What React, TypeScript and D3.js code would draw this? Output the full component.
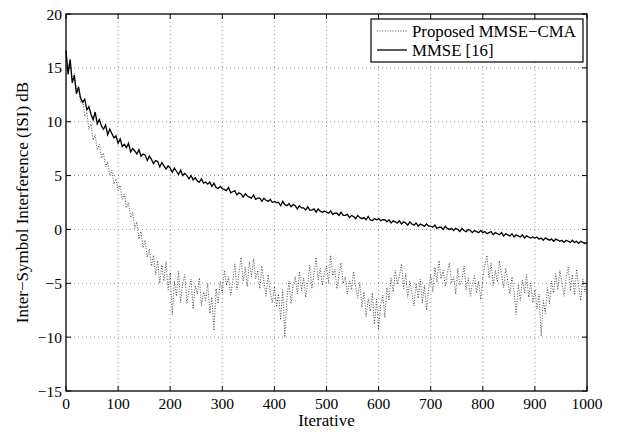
import React from "react";
import * as d3 from "d3";

const STEP = 4;

const proposedValues: number[] = [
  16.4, 15.0, 15.6, 14.0, 14.5, 13.0, 13.3, 11.8, 12.0, 10.5, 10.9, 9.3, 9.8, 8.3, 8.8, 7.4, 7.9, 6.6, 7.1, 5.8, 6.3, 5.0, 5.5, 4.2, 4.7,
  3.6, 4.1, 2.8, 3.3, 2.0, 2.5, 1.1, 1.6, 0.1, 0.7, -0.9, -0.2, -1.7, -1.0, -2.6, -1.8, -3.4, -2.4, -4.2, -2.9, -5.0, -3.3, -4.8, -3.0, -5.6,
  -4.0, -7.9, -4.8, -6.2, -3.9, -6.8, -5.0, -4.2, -6.9, -5.6, -4.6, -7.4, -5.2, -6.0, -4.5, -7.1, -5.8, -6.6, -5.0, -7.8, -6.3, -9.4, -5.5, -6.9, -4.8,
  -5.9, -3.8, -5.2, -4.4, -6.1, -4.9, -3.2, -5.6, -4.1, -2.6, -4.8, -3.5, -5.3, -3.0, -4.4, -2.7, -4.6, -3.8, -5.5, -3.4, -4.9, -6.2, -4.2, -5.8, -6.8,
  -5.3, -7.2, -6.0, -8.4, -5.6, -10.0, -6.4, -4.8, -6.9, -5.2, -4.4, -6.0, -3.9, -5.7, -4.5, -6.3, -5.0, -3.3, -5.5, -4.1, -2.6, -4.7, -3.6, -5.2, -4.0,
  -3.4, -5.0, -2.4, -4.3, -3.7, -5.5, -4.2, -3.1, -5.0, -4.4, -6.0, -4.8, -5.6, -3.9, -5.3, -6.4, -4.9, -7.2, -5.8, -8.1, -6.4, -7.6, -5.9, -8.8, -6.5,
  -9.3, -7.0, -6.1, -8.2, -5.4, -6.6, -4.5, -5.8, -3.8, -5.1, -4.3, -3.2, -5.5, -4.1, -6.3, -4.8, -5.9, -7.1, -5.0, -6.4, -4.6, -6.8, -5.2, -7.5, -5.6,
  -4.2, -5.8, -3.5, -4.9, -2.9, -4.6, -3.8, -5.3, -4.0, -3.1, -5.0, -4.4, -6.0, -3.6, -5.2, -4.7, -3.4, -5.6, -4.5, -6.2, -5.1, -4.3, -5.9, -4.8, -6.5,
  -4.6, -3.3, -2.4, -4.5, -3.1, -5.2, -3.8, -4.9, -2.9, -4.2, -5.4, -3.6, -4.8, -6.0, -4.4, -5.7, -7.9, -5.1, -6.6, -4.7, -5.9, -4.2, -6.3, -5.0, -6.8,
  -5.6, -7.4, -6.0, -9.9, -6.6, -7.8, -5.4, -6.9, -4.8, -5.9, -4.1, -5.6, -3.8, -5.0, -6.2, -4.5, -3.5, -5.7, -4.2, -6.1, -3.7, -5.3, -6.6, -4.6, -5.8,
  -4.9,
];

const mmseValues: number[] = [
  16.6, 14.4, 15.8, 13.6, 14.3, 12.6, 13.2, 12.2, 11.8, 12.1, 11.1, 11.4, 10.7, 10.2, 10.9, 9.8, 10.2, 9.6, 9.3, 9.7, 8.8, 9.3, 8.9, 8.5, 8.7,
  8.0, 8.4, 7.7, 7.9, 7.6, 8.0, 7.2, 7.5, 7.3, 7.0, 7.4, 6.8, 7.0, 6.9, 6.4, 6.8, 6.5, 6.1, 6.4, 6.3, 5.8, 6.2, 5.9, 5.6, 5.9,
  5.7, 5.3, 5.7, 5.4, 5.1, 5.5, 5.0, 5.2, 5.0, 4.7, 5.0, 4.6, 4.8, 4.5, 4.4, 4.7, 4.3, 4.4, 4.2, 4.4, 4.0, 4.3, 3.9, 3.8, 4.0,
  3.8, 3.7, 3.6, 3.9, 3.4, 3.5, 3.6, 3.2, 3.4, 3.3, 3.0, 3.3, 3.1, 3.0, 2.9, 3.2, 2.8, 2.9, 2.9, 2.6, 2.9, 2.7, 2.6, 2.8, 2.5,
  2.6, 2.5, 2.5, 2.2, 2.6, 2.3, 2.2, 2.4, 2.1, 2.3, 2.2, 1.9, 2.2, 2.0, 2.0, 1.8, 2.1, 1.8, 1.8, 1.9, 1.6, 1.9, 1.7, 1.6, 1.7,
  1.6, 1.5, 1.7, 1.4, 1.5, 1.5, 1.3, 1.6, 1.3, 1.3, 1.4, 1.1, 1.3, 1.2, 1.0, 1.3, 1.1, 1.0, 1.1, 0.9, 1.2, 0.9, 0.8, 1.0, 0.9,
  1.0, 0.8, 0.9, 0.9, 0.7, 0.9, 0.6, 0.8, 0.7, 0.6, 0.8, 0.5, 0.7, 0.6, 0.4, 0.7, 0.5, 0.4, 0.6, 0.3, 0.5, 0.4, 0.3, 0.5, 0.3,
  0.3, 0.2, 0.4, 0.1, 0.2, 0.2, 0.0, 0.3, 0.1, 0.0, 0.1, -0.1, 0.1, 0.0, -0.2, 0.1, -0.1, -0.2, 0.0, -0.1, -0.3, -0.1, -0.2, -0.3, -0.1,
  -0.3, -0.2, -0.4, -0.3, -0.2, -0.5, -0.3, -0.4, -0.5, -0.3, -0.6, -0.4, -0.5, -0.6, -0.4, -0.7, -0.5, -0.6, -0.7, -0.5, -0.8, -0.6, -0.7, -0.8, -0.7,
  -0.8, -0.7, -0.9, -0.8, -1.0, -0.8, -0.9, -1.0, -0.9, -1.1, -0.9, -1.0, -1.1, -1.0, -1.2, -1.0, -1.1, -1.2, -1.0, -1.2, -1.1, -1.3, -1.1, -1.2, -1.3,
  -1.2,
];

const xTicks = [0, 100, 200, 300, 400, 500, 600, 700, 800, 900, 1000];
const yTicks = [-15, -10, -5, 0, 5, 10, 15, 20];
const legendLabels = ["Proposed MMSE\u2212CMA", "MMSE [16]"];

const W = 620;
const H = 436;
const M = { left: 66, right: 587, top: 14, bottom: 391 };
const FONT = "'Liberation Serif', 'Times New Roman', serif";

function fmt(v: number) {
  return v < 0 ? "\u2212" + Math.abs(v) : String(v);
}

export default function App() {
  const x = d3.scaleLinear().domain([0, 1000]).range([M.left, M.right]);
  const y = d3.scaleLinear().domain([-15, 20]).range([M.bottom, M.top]);
  const line = d3
    .line<number>()
    .x((_, i) => x(i * STEP))
    .y((d) => y(d));

  const tl = 5;
  return (
    <svg
      width={W}
      height={H}
      style={{ position: "absolute", left: 0, top: 0, background: "#fff" }}
      fontFamily={FONT}
    >
      <rect x={0} y={0} width={W} height={H} fill="#fff" />
      <g stroke="#000" strokeWidth={0.6} strokeDasharray="1,3" opacity={0.7}>
        {xTicks.slice(1, -1).map((t) => (
          <line key={"gx" + t} x1={x(t)} x2={x(t)} y1={M.top} y2={M.bottom} />
        ))}
        {yTicks.slice(1, -1).map((t) => (
          <line key={"gy" + t} x1={M.left} x2={M.right} y1={y(t)} y2={y(t)} />
        ))}
      </g>
      <path
        d={line(proposedValues) || ""}
        fill="none"
        stroke="#000"
        strokeWidth={0.7}
        strokeDasharray="1,1.6"
      />
      <path d={line(mmseValues) || ""} fill="none" stroke="#000" strokeWidth={1.3} />
      <rect
        x={M.left}
        y={M.top}
        width={M.right - M.left}
        height={M.bottom - M.top}
        fill="none"
        stroke="#000"
        strokeWidth={1.3}
      />
      <g stroke="#000" strokeWidth={1}>
        {xTicks.map((t) => (
          <g key={"tx" + t}>
            <line x1={x(t)} x2={x(t)} y1={M.bottom} y2={M.bottom - tl} />
            <line x1={x(t)} x2={x(t)} y1={M.top} y2={M.top + tl} />
          </g>
        ))}
        {yTicks.map((t) => (
          <g key={"ty" + t}>
            <line x1={M.left} x2={M.left + tl} y1={y(t)} y2={y(t)} />
            <line x1={M.right} x2={M.right - tl} y1={y(t)} y2={y(t)} />
          </g>
        ))}
      </g>
      <g fontSize={15.5} fill="#000">
        {xTicks.map((t) => (
          <text key={"lx" + t} x={x(t)} y={409} textAnchor="middle">
            {t}
          </text>
        ))}
        {yTicks.map((t) => (
          <text key={"ly" + t} x={62} y={y(t) + 5.5} textAnchor="end">
            {fmt(t)}
          </text>
        ))}
      </g>
      <g fontSize={17} fill="#000">
        <text x={(M.left + M.right) / 2} y={426} textAnchor="middle">
          Iterative
        </text>
        <text
          transform={`translate(28, ${(M.top + M.bottom) / 2}) rotate(-90)`}
          textAnchor="middle"
        >
          Inter{"\u2212"}Symbol Interference (ISI) dB
        </text>
      </g>
      <g>
        <rect x={371} y={19} width={212} height={43} fill="#fff" stroke="#000" strokeWidth={1.2} />
        <line x1={377} x2={407} y1={31} y2={31} stroke="#000" strokeWidth={0.7} strokeDasharray="1,1.6" />
        <line x1={377} x2={407} y1={50} y2={50} stroke="#000" strokeWidth={1.3} />
        <text x={412} y={36.5} fontSize={16.8}>{legendLabels[0]}</text>
        <text x={412} y={55.5} fontSize={16.8}>{legendLabels[1]}</text>
      </g>
    </svg>
  );
}
